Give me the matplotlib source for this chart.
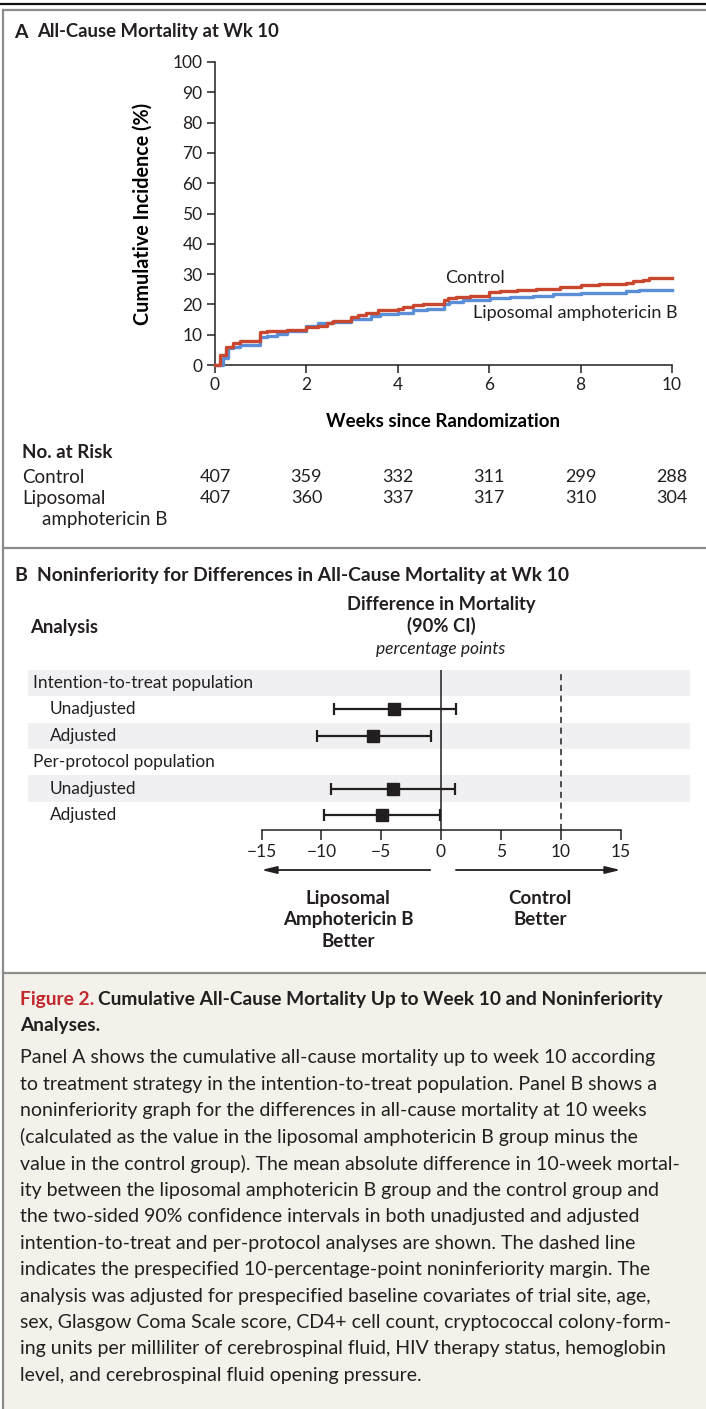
import matplotlib
matplotlib.use('Agg')
from matplotlib import pyplot as plt
from matplotlib import transforms
from matplotlib.lines import Line2D

W, H = 706, 1409
FONT = 'Lato'
INK = '#231f20'
RED = '#c9472f'
BLUE = '#5a8ed6'

# panel A: cumulative incidence step curves (weeks, %)
control_t = [0, 0.12, 0.25, 0.40, 0.55, 0.98, 1.13, 1.57, 2.00, 2.26, 2.44, 2.58, 2.98, 3.13,
             3.31, 3.57, 4.00, 4.12, 4.33, 4.55, 5.00, 5.10, 5.28, 5.57, 6.00, 6.23, 6.60,
             7.03, 7.54, 8.01, 8.41, 9.00, 9.14, 9.36, 9.50, 10.0]
control_y = [0, 3.2, 6.1, 7.2, 7.8, 10.9, 11.3, 11.7, 12.6, 12.9, 13.7, 14.6, 15.7, 16.6,
             17.2, 18.0, 18.6, 19.1, 19.8, 20.1, 21.3, 22.0, 22.4, 22.9, 24.0, 24.3, 24.8,
             25.2, 25.9, 26.4, 26.8, 27.1, 27.6, 28.2, 28.6, 28.6]
lipo_t = [0, 0.18, 0.29, 0.40, 0.55, 0.98, 1.13, 1.35, 1.57, 2.00, 2.26, 2.55, 2.98, 3.42,
          3.60, 4.00, 4.33, 4.63, 5.00, 5.13, 5.43, 6.01, 6.45, 6.96, 7.40, 8.01, 9.00,
          9.28, 10.0]
lipo_y = [0, 2.3, 5.5, 6.1, 6.7, 9.1, 9.6, 10.2, 11.1, 12.8, 13.7, 14.2, 15.3, 16.1,
          16.7, 17.3, 18.0, 18.5, 20.2, 20.8, 21.3, 22.1, 22.6, 22.9, 23.3, 23.9, 24.3,
          24.8, 24.8]

risk_weeks = [0, 2, 4, 6, 8, 10]
risk_control = [407, 359, 332, 311, 299, 288]
risk_lipo = [407, 360, 337, 317, 310, 304]

# panel B: differences in mortality (percentage points, 90% CI)
rows = ['Intention-to-treat population', 'Unadjusted', 'Adjusted',
        'Per-protocol population', 'Unadjusted', 'Adjusted']
row_est = [None, -3.9, -5.65, None, -4.0, -4.96]
row_lo = [None, -8.9, -10.4, None, -9.2, -9.8]
row_hi = [None, 1.25, -0.86, None, 1.17, -0.08]
margin = 10

caption_lines = [
    'Panel A shows the cumulative all-cause mortality up to week 10 according',
    'to treatment strategy in the intention-to-treat population. Panel B shows a',
    'noninferiority graph for the differences in all-cause mortality at 10 weeks',
    '(calculated as the value in the liposomal amphotericin B group minus the',
    'value in the control group). The mean absolute difference in 10-week mortal-',
    'ity between the liposomal amphotericin B group and the control group and',
    'the two-sided 90% confidence intervals in both unadjusted and adjusted',
    'intention-to-treat and per-protocol analyses are shown. The dashed line',
    'indicates the prespecified 10-percentage-point noninferiority margin. The',
    'analysis was adjusted for prespecified baseline covariates of trial site, age,',
    'sex, Glasgow Coma Scale score, CD4+ cell count, cryptococcal colony-form-',
    'ing units per milliliter of cerebrospinal fluid, HIV therapy status, hemoglobin',
    'level, and cerebrospinal fluid opening pressure.',
]

plt.rcParams['font.family'] = FONT
plt.rcParams['text.color'] = INK
plt.rcParams['axes.edgecolor'] = INK
plt.rcParams['xtick.color'] = INK
plt.rcParams['ytick.color'] = INK


def box(l, t, r, b):
    return [l / W, 1 - b / H, (r - l) / W, (b - t) / H]


def T(x, y, s, **kw):
    kw.setdefault('va', 'center')
    return fig.text(x / W, 1 - y / H, s, **kw)


fig = plt.figure(figsize=(W / 100, H / 100), dpi=100)

# frame lines and caption background
bg = fig.add_axes([0, 0, 1, 1], zorder=-5)
bg.set_xlim(0, W)
bg.set_ylim(H, 0)
bg.axis('off')
bg.axhspan(973, H, xmin=4 / W, color='#f4f1eb', lw=0)
bg.add_line(Line2D([0, W], [4, 4], color='#111111', lw=1.6))
bg.add_line(Line2D([3, W], [10, 10], color='#8c8c8c', lw=1.6))
bg.add_line(Line2D([3, 3], [10, H], color='#8c8c8c', lw=1.6))
bg.add_line(Line2D([3, W], [548, 548], color='#8c8c8c', lw=1.6))
bg.add_line(Line2D([3, W], [973, 973], color='#8c8c8c', lw=1.6))

# ---- panel A ----
T(14, 32, 'A', fontsize=14, fontweight='bold')
T(37, 32, 'All-Cause Mortality at Wk 10', fontsize=13.3, fontweight='bold')

ax = fig.add_axes(box(215, 62, 672, 365))
ax.step(lipo_t, lipo_y, where='post', color=BLUE, lw=2.4, clip_on=False, zorder=3)
ax.step(control_t, control_y, where='post', color=RED, lw=2.4, clip_on=False, zorder=4)
ax.set_xlim(0, 10)
ax.set_ylim(0, 100)
ax.set_xticks(range(0, 11, 2))
ax.set_yticks(range(0, 101, 10))
for s in ['top', 'right']:
    ax.spines[s].set_visible(False)
for s in ['left', 'bottom']:
    ax.spines[s].set_linewidth(1.1)
ax.tick_params(direction='out', length=6, width=1.1, labelsize=12.5, pad=3)
ax.set_ylabel('Cumulative Incidence (%)', fontsize=14.2, fontweight='bold', labelpad=14)
ax.set_xlabel('Weeks since Randomization', fontsize=13.4, fontweight='bold', labelpad=14)
ax.text(5.7, 28.8, 'Control', fontsize=13, ha='center', va='center')
ax.text(5.65, 17.3, 'Liposomal amphotericin B', fontsize=13, ha='left', va='center')

T(22, 453, 'No. at Risk', fontsize=13.5, fontweight='bold')
T(22, 477, 'Control', fontsize=13.5)
T(22, 498, 'Liposomal', fontsize=13.5)
T(42, 520, 'amphotericin B', fontsize=13.5)
tr = transforms.blended_transform_factory(ax.transData, fig.transFigure)
for wk, c, l in zip(risk_weeks, risk_control, risk_lipo):
    ax.text(wk, 1 - 477 / H, str(c), transform=tr, ha='center', va='center', fontsize=13)
    ax.text(wk, 1 - 498 / H, str(l), transform=tr, ha='center', va='center', fontsize=13)

# ---- panel B ----
T(14, 575, 'B', fontsize=14, fontweight='bold')
T(37, 575, 'Noninferiority for Differences in All-Cause Mortality at Wk 10',
  fontsize=13.9, fontweight='bold')
T(30, 627, 'Analysis', fontsize=13.3, fontweight='bold')
T(441, 604, 'Difference in Mortality', fontsize=13.2, fontweight='bold', ha='center')
T(441, 626, '(90% CI)', fontsize=13.2, fontweight='bold', ha='center')
T(441, 649, 'percentage points', fontsize=12.5, style='italic', ha='center')

px_per = (621 - 262) / 30.0
bx = fig.add_axes(box(28, 670, 690, 830))
bx.set_xlim((28 - 441) / px_per, (690 - 441) / px_per)
n = len(rows)
bx.set_ylim((830 - 683) / 26.4, (670 - 683) / 26.4)
for i in range(0, n, 2):
    bx.axhspan(i - 0.5, i + 0.5, color='#f0f0f2', lw=0, zorder=0)
bx.axvline(0, color=INK, lw=1.1, zorder=2)
bx.axvline(margin, color=INK, lw=1.1, ls=(0, (4, 3)), zorder=2)
for i, (lab, est, lo, hi) in enumerate(zip(rows, row_est, row_lo, row_hi)):
    indent = 33 if est is None else 50
    bx.text((indent - 28) / (690 - 28), i, lab, transform=bx.get_yaxis_transform(),
            fontsize=12.4, va='center', ha='left')
    if est is not None:
        bx.errorbar([est], [i], xerr=[[est - lo], [hi - est]], fmt='s', color=INK,
                    ms=8, capsize=4, elinewidth=1.6, capthick=1.6, zorder=4)
for s in ['top', 'right', 'left']:
    bx.spines[s].set_visible(False)
bx.spines['bottom'].set_bounds(-15, 15)
bx.spines['bottom'].set_linewidth(1.1)
bx.set_yticks([])
bx.set_xticks(range(-15, 16, 5))
bx.set_xticklabels(['\u221215', '\u221210', '\u22125', '0', '5', '10', '15'])
bx.tick_params(axis='x', direction='out', length=7, width=1.1, labelsize=12.5, pad=3)

arrow_y = (870 - 683) / 26.4
bx.annotate('', xy=(-15, arrow_y), xytext=(-0.9, arrow_y), annotation_clip=False,
            arrowprops=dict(arrowstyle='-|>,head_length=0.9,head_width=0.22',
                            color=INK, lw=1.3, shrinkA=0, shrinkB=0))
bx.annotate('', xy=(15, arrow_y), xytext=(1.25, arrow_y), annotation_clip=False,
            arrowprops=dict(arrowstyle='-|>,head_length=0.9,head_width=0.22',
                            color=INK, lw=1.3, shrinkA=0, shrinkB=0))
T(348, 920, 'Liposomal\nAmphotericin B\nBetter', fontsize=13.5, fontweight='bold',
  ha='center', linespacing=1.32)
T(540, 909, 'Control\nBetter', fontsize=13.5, fontweight='bold', ha='center',
  linespacing=1.32)

# ---- caption ----
fig.canvas.draw()
renderer = fig.canvas.get_renderer()
head = T(20, 1000, 'Figure 2.', fontsize=13.8, fontweight='bold', color='#c1272d')
hw = head.get_window_extent(renderer).width
T(20 + hw + 4, 1000, 'Cumulative All-Cause Mortality Up to Week 10 and Noninferiority',
  fontsize=13.8, fontweight='bold')
T(20, 1025, 'Analyses.', fontsize=13.8, fontweight='bold')
for k, line in enumerate(caption_lines):
    T(20, 1058 + k * 26.45, line, fontsize=14)

fig.savefig('out.png', dpi=100)
